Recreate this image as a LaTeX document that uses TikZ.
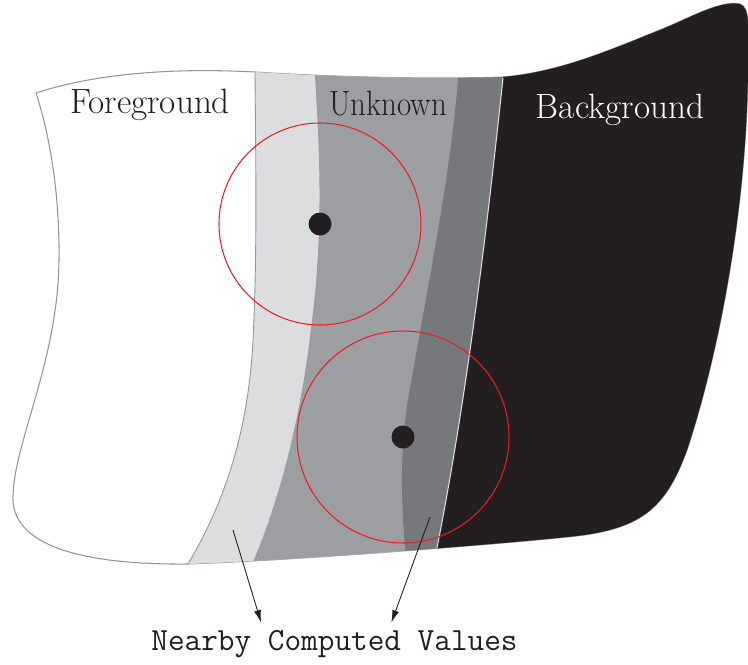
\documentclass[tikz,border=0pt]{standalone}
\usepackage{xcolor}
\usepackage{tikz}
\usetikzlibrary{calc,arrows.meta}

\definecolor{lightgr}{HTML}{DCDDDF}
\definecolor{midgr}{HTML}{9D9EA2}
\definecolor{darkgr}{HTML}{77787C}
\definecolor{bgblack}{HTML}{231F20}
\definecolor{ringred}{HTML}{ED1C24}
\definecolor{edgegr}{HTML}{939598}

% outline of the sheet
\newcommand{\sheetoutline}{(36,93) .. controls (100,72) and (180,68) .. (255,72)
	.. controls (350,78) and (440,79) .. (503,77)
	.. controls (560,72) and (610,50) .. (660,30)
	.. controls (690,18) and (720,0) .. (740,4)
	.. controls (750,8) and (748,25) .. (748,60)
	.. controls (748,200) and (720,350) .. (687,450)
	.. controls (665,510) and (640,530) .. (567,537)
	.. controls (500,544) and (300,560) .. (188,564)
	.. controls (80,565) and (10,545) .. (13,495)
	.. controls (15,440) and (58,360) .. (59,260)
	.. controls (60,180) and (45,120) .. (36,93) -- cycle}

\begin{document}
\begin{tikzpicture}[x=0.02cm,y=-0.02cm,
	edge/.style={edgegr,line width=0.5pt},
	ring/.style={ringred,line width=0.6pt},
	ptr/.style={-{Latex[length=7pt,width=4pt]},line width=0.5pt,bgblack},
	lbl/.style={anchor=base,font=\fontsize{20}{22}\selectfont,text=bgblack}]
	\useasboundingbox (0,0) rectangle (748,664);
	\draw[edgegr,line width=0.6pt] \sheetoutline;
	% the four bands cut to the sheet
	\begin{scope}
		\clip \sheetoutline;
		\fill[lightgr] (255,-20) -- (255,72) .. controls (256,180) and (257,260) .. (253,340)
			.. controls (248,440) and (220,510) .. (188,564) -- (170,620) -- (800,620) -- (800,-20) -- cycle;
		\fill[midgr] (315,-20) -- (315,77) .. controls (321,170) and (322,240) .. (312,320)
			.. controls (300,430) and (275,510) .. (253,562) -- (240,620) -- (800,620) -- (800,-20) -- cycle;
		\fill[darkgr] (459,-20) -- (458,80) .. controls (450,180) and (425,300) .. (408,400)
			.. controls (400,450) and (401,500) .. (405,548) -- (406,620) -- (800,620) -- (800,-20) -- cycle;
		\fill[bgblack] (505,-20) -- (503,78) .. controls (490,200) and (470,380) .. (437,548)
			-- (430,620) -- (800,620) -- (800,-20) -- cycle;
	\end{scope}
	% band edges
	\draw[edge] (255,72) .. controls (256,180) and (257,260) .. (253,340)
		.. controls (248,440) and (220,510) .. (188,564);
	\draw[gray!25,line width=0.6pt] (503,78) .. controls (490,200) and (470,380) .. (437,548);

	% sample points and their windows
	\coordinate (p1) at (320,224);
	\coordinate (p2) at (403,437);
	\draw[ring] (p1) circle (101);
	\draw[ring] (p2) circle (106);
	\fill[bgblack] (p1) circle (11.5);
	\fill[bgblack] (p2) circle (11.5);

	\node[lbl] (fg) at (150,113) {Foreground};
	\node[lbl] (unk) at (388,115) {\scalebox{0.88}[1]{Unknown}};
	\node[lbl,text=white] (bg) at (620,118) {Background};
	\node[anchor=base,inner xsep=0,inner ysep=4pt,font=\fontsize{18.4}{20}\selectfont\ttfamily,text=bgblack] (nearby) at (334.5,650) {Nearby Computed Values};

	\coordinate (tailL) at (233,530);
	\coordinate (tailR) at (430,517);
	\draw[ptr] (tailL) -- ($(nearby.north west)!0.30!(nearby.north east)$);
	\draw[ptr] (tailR) -- ($(nearby.north west)!0.655!(nearby.north east)$);
\end{tikzpicture}
\end{document}
